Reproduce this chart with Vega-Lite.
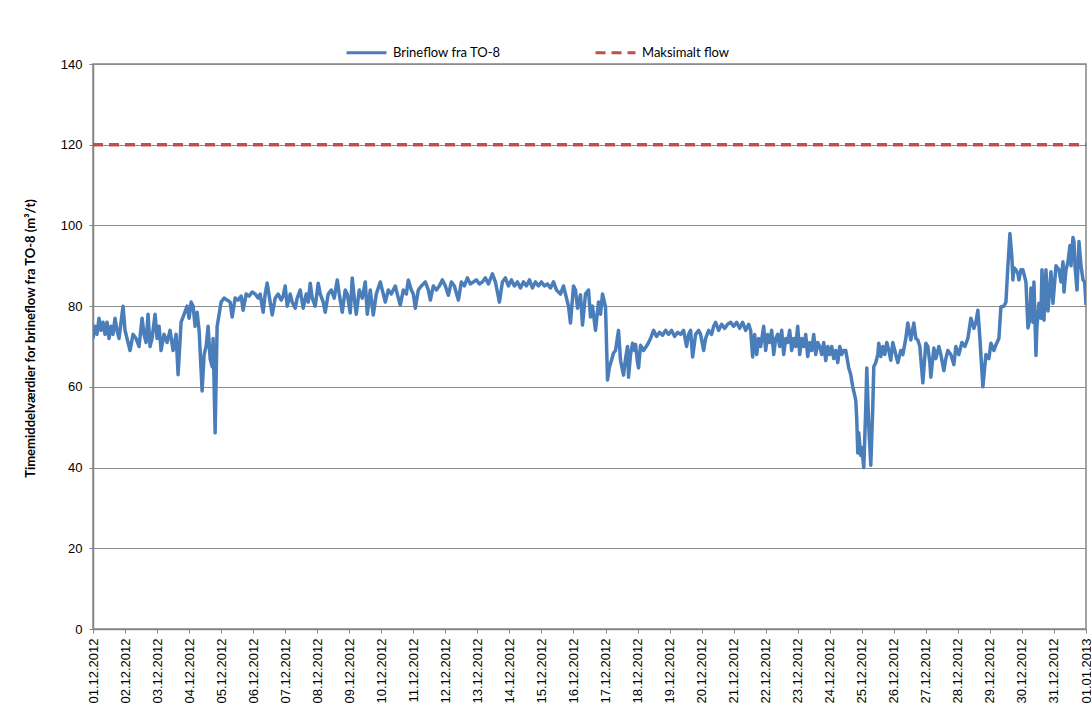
{
  "$schema": "https://vega.github.io/schema/vega-lite/v6.json",
  "width": 993,
  "height": 565,
  "autosize": {"type": "none"},
  "padding": {"left": 93, "top": 64, "right": 5, "bottom": 89},
  "background": "white",
  "config": {
    "view": {"stroke": "#868686", "strokeWidth": 1.5},
    "axis": {"labelFont": "Liberation Sans", "labelFontSize": 13, "labelColor": "#000000", "domainColor": "#868686", "domainWidth": 1.5, "tickColor": "#868686", "tickSize": 4, "tickWidth": 1}
  },
  "data": {"values": [
    {"h":0,"v":72,"s":"Brineflow fra TO-8"},{"h":1.5,"v":75,"s":"Brineflow fra TO-8"},{"h":3,"v":73,"s":"Brineflow fra TO-8"},{"h":4.5,"v":77,"s":"Brineflow fra TO-8"},{"h":6,"v":74,"s":"Brineflow fra TO-8"},{"h":7.5,"v":76,"s":"Brineflow fra TO-8"},{"h":9,"v":73,"s":"Brineflow fra TO-8"},{"h":10.5,"v":76,"s":"Brineflow fra TO-8"},{"h":12,"v":72,"s":"Brineflow fra TO-8"},{"h":13.5,"v":75,"s":"Brineflow fra TO-8"},{"h":15,"v":73,"s":"Brineflow fra TO-8"},{"h":16.5,"v":77,"s":"Brineflow fra TO-8"},{"h":18,"v":74,"s":"Brineflow fra TO-8"},{"h":19.5,"v":72,"s":"Brineflow fra TO-8"},{"h":21,"v":76,"s":"Brineflow fra TO-8"},{"h":22.5,"v":80,"s":"Brineflow fra TO-8"},{"h":24,"v":74,"s":"Brineflow fra TO-8"},{"h":25.5,"v":72,"s":"Brineflow fra TO-8"},{"h":27.75,"v":69,"s":"Brineflow fra TO-8"},{"h":30,"v":73,"s":"Brineflow fra TO-8"},{"h":32.25,"v":72,"s":"Brineflow fra TO-8"},{"h":34.5,"v":70,"s":"Brineflow fra TO-8"},{"h":36.75,"v":77,"s":"Brineflow fra TO-8"},{"h":38.25,"v":73,"s":"Brineflow fra TO-8"},{"h":39.75,"v":71,"s":"Brineflow fra TO-8"},{"h":41.25,"v":78,"s":"Brineflow fra TO-8"},{"h":42.75,"v":70,"s":"Brineflow fra TO-8"},{"h":44.25,"v":72,"s":"Brineflow fra TO-8"},{"h":46.5,"v":78,"s":"Brineflow fra TO-8"},{"h":48,"v":72,"s":"Brineflow fra TO-8"},{"h":49.5,"v":75,"s":"Brineflow fra TO-8"},{"h":51,"v":69,"s":"Brineflow fra TO-8"},{"h":53.25,"v":73,"s":"Brineflow fra TO-8"},{"h":55.5,"v":71,"s":"Brineflow fra TO-8"},{"h":57.75,"v":74,"s":"Brineflow fra TO-8"},{"h":60,"v":69,"s":"Brineflow fra TO-8"},{"h":62.25,"v":73,"s":"Brineflow fra TO-8"},{"h":63.75,"v":63,"s":"Brineflow fra TO-8"},{"h":66,"v":76,"s":"Brineflow fra TO-8"},{"h":68.25,"v":78,"s":"Brineflow fra TO-8"},{"h":70.5,"v":80,"s":"Brineflow fra TO-8"},{"h":72,"v":77,"s":"Brineflow fra TO-8"},{"h":73.5,"v":81,"s":"Brineflow fra TO-8"},{"h":75,"v":80,"s":"Brineflow fra TO-8"},{"h":76.5,"v":75,"s":"Brineflow fra TO-8"},{"h":78,"v":78.5,"s":"Brineflow fra TO-8"},{"h":79.5,"v":74,"s":"Brineflow fra TO-8"},{"h":81.75,"v":59,"s":"Brineflow fra TO-8"},{"h":83.25,"v":68,"s":"Brineflow fra TO-8"},{"h":84.75,"v":70,"s":"Brineflow fra TO-8"},{"h":86.25,"v":75,"s":"Brineflow fra TO-8"},{"h":87.75,"v":67,"s":"Brineflow fra TO-8"},{"h":89.25,"v":65,"s":"Brineflow fra TO-8"},{"h":90,"v":72,"s":"Brineflow fra TO-8"},{"h":91.5,"v":48.6,"s":"Brineflow fra TO-8"},{"h":93,"v":75,"s":"Brineflow fra TO-8"},{"h":94.5,"v":78,"s":"Brineflow fra TO-8"},{"h":96,"v":81,"s":"Brineflow fra TO-8"},{"h":98.25,"v":82,"s":"Brineflow fra TO-8"},{"h":100.5,"v":81.5,"s":"Brineflow fra TO-8"},{"h":102.75,"v":81,"s":"Brineflow fra TO-8"},{"h":104.25,"v":77.3,"s":"Brineflow fra TO-8"},{"h":106.5,"v":82,"s":"Brineflow fra TO-8"},{"h":108.75,"v":81.5,"s":"Brineflow fra TO-8"},{"h":111,"v":82.5,"s":"Brineflow fra TO-8"},{"h":112.5,"v":79,"s":"Brineflow fra TO-8"},{"h":114.75,"v":83,"s":"Brineflow fra TO-8"},{"h":117,"v":82.5,"s":"Brineflow fra TO-8"},{"h":119.25,"v":83.5,"s":"Brineflow fra TO-8"},{"h":121.5,"v":83,"s":"Brineflow fra TO-8"},{"h":123.75,"v":82,"s":"Brineflow fra TO-8"},{"h":125.25,"v":83,"s":"Brineflow fra TO-8"},{"h":127.5,"v":78.5,"s":"Brineflow fra TO-8"},{"h":129,"v":83,"s":"Brineflow fra TO-8"},{"h":130.5,"v":85.7,"s":"Brineflow fra TO-8"},{"h":132.75,"v":81,"s":"Brineflow fra TO-8"},{"h":134.25,"v":77.8,"s":"Brineflow fra TO-8"},{"h":136.5,"v":82,"s":"Brineflow fra TO-8"},{"h":138.75,"v":83,"s":"Brineflow fra TO-8"},{"h":141,"v":81.5,"s":"Brineflow fra TO-8"},{"h":142.5,"v":82.5,"s":"Brineflow fra TO-8"},{"h":144,"v":85,"s":"Brineflow fra TO-8"},{"h":145.5,"v":80,"s":"Brineflow fra TO-8"},{"h":147.75,"v":83,"s":"Brineflow fra TO-8"},{"h":149.25,"v":81,"s":"Brineflow fra TO-8"},{"h":151.5,"v":79.5,"s":"Brineflow fra TO-8"},{"h":153,"v":82,"s":"Brineflow fra TO-8"},{"h":155.25,"v":84,"s":"Brineflow fra TO-8"},{"h":157.5,"v":79.5,"s":"Brineflow fra TO-8"},{"h":159.75,"v":83,"s":"Brineflow fra TO-8"},{"h":161.25,"v":81,"s":"Brineflow fra TO-8"},{"h":162.75,"v":85.7,"s":"Brineflow fra TO-8"},{"h":164.25,"v":82,"s":"Brineflow fra TO-8"},{"h":166.5,"v":80,"s":"Brineflow fra TO-8"},{"h":168.75,"v":85.7,"s":"Brineflow fra TO-8"},{"h":170.25,"v":83,"s":"Brineflow fra TO-8"},{"h":172.5,"v":81,"s":"Brineflow fra TO-8"},{"h":174,"v":78.5,"s":"Brineflow fra TO-8"},{"h":176.25,"v":83,"s":"Brineflow fra TO-8"},{"h":178.5,"v":84,"s":"Brineflow fra TO-8"},{"h":180.75,"v":82,"s":"Brineflow fra TO-8"},{"h":183,"v":86.5,"s":"Brineflow fra TO-8"},{"h":184.5,"v":83,"s":"Brineflow fra TO-8"},{"h":186.75,"v":78.5,"s":"Brineflow fra TO-8"},{"h":189,"v":84,"s":"Brineflow fra TO-8"},{"h":190.5,"v":83,"s":"Brineflow fra TO-8"},{"h":192.75,"v":78.3,"s":"Brineflow fra TO-8"},{"h":194.25,"v":87,"s":"Brineflow fra TO-8"},{"h":195.75,"v":82,"s":"Brineflow fra TO-8"},{"h":197.25,"v":78,"s":"Brineflow fra TO-8"},{"h":199.5,"v":84,"s":"Brineflow fra TO-8"},{"h":201.75,"v":82,"s":"Brineflow fra TO-8"},{"h":204,"v":86,"s":"Brineflow fra TO-8"},{"h":205.5,"v":78,"s":"Brineflow fra TO-8"},{"h":207.75,"v":84,"s":"Brineflow fra TO-8"},{"h":210,"v":77.8,"s":"Brineflow fra TO-8"},{"h":212.25,"v":83,"s":"Brineflow fra TO-8"},{"h":215.25,"v":86,"s":"Brineflow fra TO-8"},{"h":216.75,"v":84,"s":"Brineflow fra TO-8"},{"h":219,"v":81,"s":"Brineflow fra TO-8"},{"h":221.25,"v":84,"s":"Brineflow fra TO-8"},{"h":223.5,"v":83,"s":"Brineflow fra TO-8"},{"h":226.5,"v":85,"s":"Brineflow fra TO-8"},{"h":228.75,"v":82,"s":"Brineflow fra TO-8"},{"h":230.25,"v":80.3,"s":"Brineflow fra TO-8"},{"h":232.5,"v":84,"s":"Brineflow fra TO-8"},{"h":234.75,"v":83,"s":"Brineflow fra TO-8"},{"h":236.25,"v":86.5,"s":"Brineflow fra TO-8"},{"h":238.5,"v":84,"s":"Brineflow fra TO-8"},{"h":240,"v":83,"s":"Brineflow fra TO-8"},{"h":241.5,"v":79.5,"s":"Brineflow fra TO-8"},{"h":243.75,"v":84,"s":"Brineflow fra TO-8"},{"h":246,"v":85,"s":"Brineflow fra TO-8"},{"h":249,"v":86,"s":"Brineflow fra TO-8"},{"h":251.25,"v":84,"s":"Brineflow fra TO-8"},{"h":252.75,"v":81.5,"s":"Brineflow fra TO-8"},{"h":255,"v":85,"s":"Brineflow fra TO-8"},{"h":257.25,"v":84,"s":"Brineflow fra TO-8"},{"h":259.5,"v":85,"s":"Brineflow fra TO-8"},{"h":261.75,"v":86.5,"s":"Brineflow fra TO-8"},{"h":264,"v":85,"s":"Brineflow fra TO-8"},{"h":266.25,"v":82.7,"s":"Brineflow fra TO-8"},{"h":268.5,"v":86,"s":"Brineflow fra TO-8"},{"h":270.75,"v":85,"s":"Brineflow fra TO-8"},{"h":273.75,"v":81.5,"s":"Brineflow fra TO-8"},{"h":276,"v":86,"s":"Brineflow fra TO-8"},{"h":278.25,"v":85,"s":"Brineflow fra TO-8"},{"h":280.5,"v":87,"s":"Brineflow fra TO-8"},{"h":282.75,"v":85.5,"s":"Brineflow fra TO-8"},{"h":285,"v":86,"s":"Brineflow fra TO-8"},{"h":287.25,"v":86.5,"s":"Brineflow fra TO-8"},{"h":289.5,"v":85.5,"s":"Brineflow fra TO-8"},{"h":291.75,"v":86,"s":"Brineflow fra TO-8"},{"h":294,"v":87,"s":"Brineflow fra TO-8"},{"h":296.25,"v":85.5,"s":"Brineflow fra TO-8"},{"h":299.25,"v":88,"s":"Brineflow fra TO-8"},{"h":301.5,"v":86,"s":"Brineflow fra TO-8"},{"h":304.5,"v":81,"s":"Brineflow fra TO-8"},{"h":306.75,"v":86,"s":"Brineflow fra TO-8"},{"h":309,"v":87,"s":"Brineflow fra TO-8"},{"h":311.25,"v":85,"s":"Brineflow fra TO-8"},{"h":313.5,"v":86.5,"s":"Brineflow fra TO-8"},{"h":315.75,"v":85,"s":"Brineflow fra TO-8"},{"h":318,"v":86,"s":"Brineflow fra TO-8"},{"h":320.25,"v":84.5,"s":"Brineflow fra TO-8"},{"h":322.5,"v":86,"s":"Brineflow fra TO-8"},{"h":324.75,"v":85,"s":"Brineflow fra TO-8"},{"h":327,"v":86.5,"s":"Brineflow fra TO-8"},{"h":329.25,"v":84.5,"s":"Brineflow fra TO-8"},{"h":331.5,"v":86,"s":"Brineflow fra TO-8"},{"h":333.75,"v":85,"s":"Brineflow fra TO-8"},{"h":336,"v":86,"s":"Brineflow fra TO-8"},{"h":338.25,"v":85,"s":"Brineflow fra TO-8"},{"h":340.5,"v":85.5,"s":"Brineflow fra TO-8"},{"h":342.75,"v":84.5,"s":"Brineflow fra TO-8"},{"h":345,"v":86,"s":"Brineflow fra TO-8"},{"h":347.25,"v":84,"s":"Brineflow fra TO-8"},{"h":350.25,"v":83,"s":"Brineflow fra TO-8"},{"h":352.5,"v":85,"s":"Brineflow fra TO-8"},{"h":354.75,"v":82,"s":"Brineflow fra TO-8"},{"h":356.25,"v":80,"s":"Brineflow fra TO-8"},{"h":357.75,"v":75.8,"s":"Brineflow fra TO-8"},{"h":360,"v":85,"s":"Brineflow fra TO-8"},{"h":361.5,"v":84,"s":"Brineflow fra TO-8"},{"h":363,"v":79.5,"s":"Brineflow fra TO-8"},{"h":365.25,"v":82.8,"s":"Brineflow fra TO-8"},{"h":366.75,"v":75.3,"s":"Brineflow fra TO-8"},{"h":369,"v":83,"s":"Brineflow fra TO-8"},{"h":371.25,"v":84,"s":"Brineflow fra TO-8"},{"h":372.75,"v":77.3,"s":"Brineflow fra TO-8"},{"h":374.25,"v":80,"s":"Brineflow fra TO-8"},{"h":376.5,"v":74,"s":"Brineflow fra TO-8"},{"h":378.75,"v":81,"s":"Brineflow fra TO-8"},{"h":380.25,"v":78,"s":"Brineflow fra TO-8"},{"h":381.75,"v":83,"s":"Brineflow fra TO-8"},{"h":384,"v":79.8,"s":"Brineflow fra TO-8"},{"h":385.5,"v":61.7,"s":"Brineflow fra TO-8"},{"h":387,"v":65,"s":"Brineflow fra TO-8"},{"h":388.5,"v":66.6,"s":"Brineflow fra TO-8"},{"h":390,"v":68.4,"s":"Brineflow fra TO-8"},{"h":391.5,"v":69,"s":"Brineflow fra TO-8"},{"h":393.75,"v":74,"s":"Brineflow fra TO-8"},{"h":395.25,"v":66.6,"s":"Brineflow fra TO-8"},{"h":397.5,"v":62.9,"s":"Brineflow fra TO-8"},{"h":399,"v":67,"s":"Brineflow fra TO-8"},{"h":400.5,"v":70,"s":"Brineflow fra TO-8"},{"h":401.25,"v":62.4,"s":"Brineflow fra TO-8"},{"h":402.75,"v":68,"s":"Brineflow fra TO-8"},{"h":404.25,"v":70.8,"s":"Brineflow fra TO-8"},{"h":405.75,"v":69,"s":"Brineflow fra TO-8"},{"h":406.5,"v":70.5,"s":"Brineflow fra TO-8"},{"h":408,"v":66,"s":"Brineflow fra TO-8"},{"h":408.75,"v":64.7,"s":"Brineflow fra TO-8"},{"h":410.25,"v":70.3,"s":"Brineflow fra TO-8"},{"h":412.5,"v":69,"s":"Brineflow fra TO-8"},{"h":415.5,"v":70.5,"s":"Brineflow fra TO-8"},{"h":417.75,"v":72,"s":"Brineflow fra TO-8"},{"h":420,"v":74,"s":"Brineflow fra TO-8"},{"h":422.25,"v":72.5,"s":"Brineflow fra TO-8"},{"h":424.5,"v":73.5,"s":"Brineflow fra TO-8"},{"h":426.75,"v":72.8,"s":"Brineflow fra TO-8"},{"h":429,"v":74,"s":"Brineflow fra TO-8"},{"h":431.25,"v":73,"s":"Brineflow fra TO-8"},{"h":433.5,"v":74,"s":"Brineflow fra TO-8"},{"h":435.75,"v":72.5,"s":"Brineflow fra TO-8"},{"h":438,"v":73.5,"s":"Brineflow fra TO-8"},{"h":440.25,"v":73,"s":"Brineflow fra TO-8"},{"h":442.5,"v":74,"s":"Brineflow fra TO-8"},{"h":444.75,"v":70,"s":"Brineflow fra TO-8"},{"h":446.25,"v":73,"s":"Brineflow fra TO-8"},{"h":447.75,"v":74,"s":"Brineflow fra TO-8"},{"h":449.25,"v":67.4,"s":"Brineflow fra TO-8"},{"h":451.5,"v":73,"s":"Brineflow fra TO-8"},{"h":453.75,"v":74,"s":"Brineflow fra TO-8"},{"h":455.25,"v":73,"s":"Brineflow fra TO-8"},{"h":457.5,"v":69,"s":"Brineflow fra TO-8"},{"h":459,"v":72,"s":"Brineflow fra TO-8"},{"h":461.25,"v":74,"s":"Brineflow fra TO-8"},{"h":463.5,"v":73,"s":"Brineflow fra TO-8"},{"h":465,"v":75,"s":"Brineflow fra TO-8"},{"h":466.5,"v":76,"s":"Brineflow fra TO-8"},{"h":468.75,"v":74,"s":"Brineflow fra TO-8"},{"h":471,"v":75.5,"s":"Brineflow fra TO-8"},{"h":473.25,"v":74.5,"s":"Brineflow fra TO-8"},{"h":475.5,"v":75.5,"s":"Brineflow fra TO-8"},{"h":477.75,"v":76,"s":"Brineflow fra TO-8"},{"h":480,"v":75,"s":"Brineflow fra TO-8"},{"h":482.25,"v":76,"s":"Brineflow fra TO-8"},{"h":484.5,"v":74.5,"s":"Brineflow fra TO-8"},{"h":486.75,"v":76,"s":"Brineflow fra TO-8"},{"h":489,"v":74,"s":"Brineflow fra TO-8"},{"h":491.25,"v":75.5,"s":"Brineflow fra TO-8"},{"h":492.75,"v":74,"s":"Brineflow fra TO-8"},{"h":494.25,"v":67.4,"s":"Brineflow fra TO-8"},{"h":495.75,"v":73,"s":"Brineflow fra TO-8"},{"h":497.25,"v":68,"s":"Brineflow fra TO-8"},{"h":498.75,"v":72,"s":"Brineflow fra TO-8"},{"h":500.25,"v":70,"s":"Brineflow fra TO-8"},{"h":502.5,"v":75,"s":"Brineflow fra TO-8"},{"h":504,"v":69,"s":"Brineflow fra TO-8"},{"h":505.5,"v":73,"s":"Brineflow fra TO-8"},{"h":507,"v":71,"s":"Brineflow fra TO-8"},{"h":508.5,"v":74,"s":"Brineflow fra TO-8"},{"h":510,"v":68,"s":"Brineflow fra TO-8"},{"h":511.5,"v":72,"s":"Brineflow fra TO-8"},{"h":513,"v":73,"s":"Brineflow fra TO-8"},{"h":514.5,"v":70,"s":"Brineflow fra TO-8"},{"h":516,"v":74,"s":"Brineflow fra TO-8"},{"h":517.5,"v":68,"s":"Brineflow fra TO-8"},{"h":519,"v":72,"s":"Brineflow fra TO-8"},{"h":520.5,"v":71,"s":"Brineflow fra TO-8"},{"h":522,"v":74,"s":"Brineflow fra TO-8"},{"h":523.5,"v":69,"s":"Brineflow fra TO-8"},{"h":525,"v":72,"s":"Brineflow fra TO-8"},{"h":526.5,"v":70,"s":"Brineflow fra TO-8"},{"h":528,"v":75,"s":"Brineflow fra TO-8"},{"h":529.5,"v":68,"s":"Brineflow fra TO-8"},{"h":531,"v":72,"s":"Brineflow fra TO-8"},{"h":532.5,"v":70,"s":"Brineflow fra TO-8"},{"h":534,"v":73,"s":"Brineflow fra TO-8"},{"h":535.5,"v":67.5,"s":"Brineflow fra TO-8"},{"h":537,"v":71,"s":"Brineflow fra TO-8"},{"h":538.5,"v":69,"s":"Brineflow fra TO-8"},{"h":540,"v":73,"s":"Brineflow fra TO-8"},{"h":541.5,"v":68,"s":"Brineflow fra TO-8"},{"h":543,"v":71,"s":"Brineflow fra TO-8"},{"h":544.5,"v":70,"s":"Brineflow fra TO-8"},{"h":546,"v":68,"s":"Brineflow fra TO-8"},{"h":547.5,"v":71,"s":"Brineflow fra TO-8"},{"h":549,"v":66.5,"s":"Brineflow fra TO-8"},{"h":550.5,"v":70,"s":"Brineflow fra TO-8"},{"h":552,"v":68,"s":"Brineflow fra TO-8"},{"h":553.5,"v":70,"s":"Brineflow fra TO-8"},{"h":555,"v":67,"s":"Brineflow fra TO-8"},{"h":556.5,"v":69,"s":"Brineflow fra TO-8"},{"h":558,"v":66,"s":"Brineflow fra TO-8"},{"h":559.5,"v":70,"s":"Brineflow fra TO-8"},{"h":561,"v":68,"s":"Brineflow fra TO-8"},{"h":562.5,"v":69,"s":"Brineflow fra TO-8"},{"h":564,"v":69,"s":"Brineflow fra TO-8"},{"h":566.25,"v":64.7,"s":"Brineflow fra TO-8"},{"h":567.75,"v":63,"s":"Brineflow fra TO-8"},{"h":569.25,"v":60,"s":"Brineflow fra TO-8"},{"h":571.5,"v":56.7,"s":"Brineflow fra TO-8"},{"h":572.25,"v":52,"s":"Brineflow fra TO-8"},{"h":573,"v":43.6,"s":"Brineflow fra TO-8"},{"h":573.75,"v":48.6,"s":"Brineflow fra TO-8"},{"h":575.25,"v":43,"s":"Brineflow fra TO-8"},{"h":576,"v":45,"s":"Brineflow fra TO-8"},{"h":577.5,"v":40,"s":"Brineflow fra TO-8"},{"h":579,"v":55,"s":"Brineflow fra TO-8"},{"h":579.75,"v":64.7,"s":"Brineflow fra TO-8"},{"h":581.25,"v":50,"s":"Brineflow fra TO-8"},{"h":582.75,"v":40.6,"s":"Brineflow fra TO-8"},{"h":584.25,"v":55,"s":"Brineflow fra TO-8"},{"h":585,"v":65,"s":"Brineflow fra TO-8"},{"h":586.5,"v":66,"s":"Brineflow fra TO-8"},{"h":588,"v":68,"s":"Brineflow fra TO-8"},{"h":588.75,"v":70.8,"s":"Brineflow fra TO-8"},{"h":590.25,"v":67.5,"s":"Brineflow fra TO-8"},{"h":591.75,"v":70,"s":"Brineflow fra TO-8"},{"h":593.25,"v":68,"s":"Brineflow fra TO-8"},{"h":594.75,"v":71,"s":"Brineflow fra TO-8"},{"h":596.25,"v":69,"s":"Brineflow fra TO-8"},{"h":597.75,"v":66.6,"s":"Brineflow fra TO-8"},{"h":599.25,"v":71,"s":"Brineflow fra TO-8"},{"h":600.75,"v":69,"s":"Brineflow fra TO-8"},{"h":603,"v":66,"s":"Brineflow fra TO-8"},{"h":605.25,"v":69,"s":"Brineflow fra TO-8"},{"h":606.75,"v":68,"s":"Brineflow fra TO-8"},{"h":609,"v":72,"s":"Brineflow fra TO-8"},{"h":610.5,"v":75.8,"s":"Brineflow fra TO-8"},{"h":612.75,"v":71.6,"s":"Brineflow fra TO-8"},{"h":615,"v":75.8,"s":"Brineflow fra TO-8"},{"h":616.5,"v":72,"s":"Brineflow fra TO-8"},{"h":618,"v":71.6,"s":"Brineflow fra TO-8"},{"h":619.5,"v":70,"s":"Brineflow fra TO-8"},{"h":621.75,"v":61,"s":"Brineflow fra TO-8"},{"h":624,"v":70.8,"s":"Brineflow fra TO-8"},{"h":625.5,"v":70,"s":"Brineflow fra TO-8"},{"h":627,"v":66,"s":"Brineflow fra TO-8"},{"h":627.75,"v":62.4,"s":"Brineflow fra TO-8"},{"h":630,"v":69.6,"s":"Brineflow fra TO-8"},{"h":631.5,"v":67,"s":"Brineflow fra TO-8"},{"h":633.75,"v":70,"s":"Brineflow fra TO-8"},{"h":635.25,"v":68,"s":"Brineflow fra TO-8"},{"h":637.5,"v":64,"s":"Brineflow fra TO-8"},{"h":639,"v":67,"s":"Brineflow fra TO-8"},{"h":640.5,"v":69,"s":"Brineflow fra TO-8"},{"h":642.75,"v":68,"s":"Brineflow fra TO-8"},{"h":645,"v":65.5,"s":"Brineflow fra TO-8"},{"h":646.5,"v":70,"s":"Brineflow fra TO-8"},{"h":648.75,"v":68,"s":"Brineflow fra TO-8"},{"h":651,"v":71,"s":"Brineflow fra TO-8"},{"h":653.25,"v":70,"s":"Brineflow fra TO-8"},{"h":655.5,"v":72,"s":"Brineflow fra TO-8"},{"h":657.75,"v":77,"s":"Brineflow fra TO-8"},{"h":660,"v":74.5,"s":"Brineflow fra TO-8"},{"h":661.5,"v":76,"s":"Brineflow fra TO-8"},{"h":663,"v":79,"s":"Brineflow fra TO-8"},{"h":664.5,"v":72,"s":"Brineflow fra TO-8"},{"h":666.75,"v":60,"s":"Brineflow fra TO-8"},{"h":669,"v":68,"s":"Brineflow fra TO-8"},{"h":671.25,"v":67,"s":"Brineflow fra TO-8"},{"h":672.75,"v":70.8,"s":"Brineflow fra TO-8"},{"h":675,"v":69,"s":"Brineflow fra TO-8"},{"h":676.5,"v":70.4,"s":"Brineflow fra TO-8"},{"h":678.75,"v":72,"s":"Brineflow fra TO-8"},{"h":680.25,"v":79.8,"s":"Brineflow fra TO-8"},{"h":682.5,"v":80,"s":"Brineflow fra TO-8"},{"h":684,"v":81,"s":"Brineflow fra TO-8"},{"h":685.5,"v":90,"s":"Brineflow fra TO-8"},{"h":687,"v":98,"s":"Brineflow fra TO-8"},{"h":688.5,"v":92,"s":"Brineflow fra TO-8"},{"h":689.25,"v":86.5,"s":"Brineflow fra TO-8"},{"h":690,"v":89.5,"s":"Brineflow fra TO-8"},{"h":691.5,"v":89,"s":"Brineflow fra TO-8"},{"h":693,"v":88,"s":"Brineflow fra TO-8"},{"h":693.75,"v":86.5,"s":"Brineflow fra TO-8"},{"h":695.25,"v":89,"s":"Brineflow fra TO-8"},{"h":696.75,"v":89,"s":"Brineflow fra TO-8"},{"h":698.25,"v":87,"s":"Brineflow fra TO-8"},{"h":699,"v":86,"s":"Brineflow fra TO-8"},{"h":700.5,"v":74.6,"s":"Brineflow fra TO-8"},{"h":702,"v":77,"s":"Brineflow fra TO-8"},{"h":702.75,"v":84.5,"s":"Brineflow fra TO-8"},{"h":704.25,"v":76,"s":"Brineflow fra TO-8"},{"h":705,"v":86,"s":"Brineflow fra TO-8"},{"h":706.5,"v":67.8,"s":"Brineflow fra TO-8"},{"h":707.25,"v":75,"s":"Brineflow fra TO-8"},{"h":708.75,"v":80.7,"s":"Brineflow fra TO-8"},{"h":710.25,"v":77,"s":"Brineflow fra TO-8"},{"h":711,"v":89,"s":"Brineflow fra TO-8"},{"h":712.5,"v":76.5,"s":"Brineflow fra TO-8"},{"h":714,"v":89,"s":"Brineflow fra TO-8"},{"h":715.5,"v":78.8,"s":"Brineflow fra TO-8"},{"h":716.25,"v":82,"s":"Brineflow fra TO-8"},{"h":717.75,"v":88.5,"s":"Brineflow fra TO-8"},{"h":719.25,"v":80.7,"s":"Brineflow fra TO-8"},{"h":721.5,"v":90,"s":"Brineflow fra TO-8"},{"h":723.75,"v":89,"s":"Brineflow fra TO-8"},{"h":725.25,"v":86,"s":"Brineflow fra TO-8"},{"h":726.75,"v":91,"s":"Brineflow fra TO-8"},{"h":727.5,"v":83.5,"s":"Brineflow fra TO-8"},{"h":729,"v":89,"s":"Brineflow fra TO-8"},{"h":730.5,"v":91,"s":"Brineflow fra TO-8"},{"h":732,"v":95,"s":"Brineflow fra TO-8"},{"h":732.75,"v":90,"s":"Brineflow fra TO-8"},{"h":734.25,"v":97,"s":"Brineflow fra TO-8"},{"h":735,"v":96,"s":"Brineflow fra TO-8"},{"h":735.75,"v":90,"s":"Brineflow fra TO-8"},{"h":737.25,"v":84,"s":"Brineflow fra TO-8"},{"h":738.75,"v":96,"s":"Brineflow fra TO-8"},{"h":740.25,"v":90,"s":"Brineflow fra TO-8"},{"h":741.75,"v":86.5,"s":"Brineflow fra TO-8"},{"h":743,"v":86,"s":"Brineflow fra TO-8"},{"h":744,"v":80.3,"s":"Brineflow fra TO-8"},
    {"h":0,"v":120,"s":"Maksimalt flow"},{"h":744,"v":120,"s":"Maksimalt flow"}
  ]},
  "mark": {"type": "line", "strokeWidth": 3.5, "strokeJoin": "round", "strokeCap": "butt", "clip": true},
  "encoding": {
    "x": {
      "field": "h", "type": "quantitative",
      "scale": {"domain": [0, 744], "nice": false, "zero": false},
      "axis": {
        "title": null, "grid": false,
        "values": [0,24,48,72,96,120,144,168,192,216,240,264,288,312,336,360,384,408,432,456,480,504,528,552,576,600,624,648,672,696,720,744],
        "labelExpr": "timeFormat(datetime(2012, 11, 1 + datum.value / 24), '%d.%m.%Y')",
        "labelAngle": -90, "labelAlign": "right", "labelBaseline": "middle", "labelPadding": 5,
        "labelOverlap": false, "labelFlush": false, "labelBound": false
      }
    },
    "y": {
      "field": "v", "type": "quantitative",
      "scale": {"domain": [0, 140], "nice": false},
      "axis": {
        "values": [0,20,40,60,80,100,120,140],
        "grid": true, "gridColor": "#8c8c8c", "gridWidth": 1,
        "labelPadding": 7,
        "title": "Timemiddelværdier for brineflow fra TO-8 (m³/t)",
        "titleFont": "Lato", "titleFontSize": 13, "titleFontWeight": "bold", "titleColor": "#000000",
        "titleAngle": -90, "titleX": -63, "titleY": 274, "titleAlign": "center", "titleBaseline": "middle"
      }
    },
    "color": {
      "field": "s", "type": "nominal",
      "scale": {"domain": ["Brineflow fra TO-8", "Maksimalt flow"], "range": ["#4a7ebb", "#c0504d"]},
      "legend": {
        "title": null, "orient": "none", "direction": "horizontal", "legendX": 252, "legendY": -33,
        "symbolType": "stroke", "symbolSize": 1600, "symbolStrokeWidth": 3,
        "labelFont": "Lato", "labelFontSize": 13, "labelColor": "#000000", "labelOffset": 5,
        "columnPadding": 88
      }
    },
    "strokeDash": {
      "field": "s", "type": "nominal",
      "scale": {"domain": ["Brineflow fra TO-8", "Maksimalt flow"], "range": [[1, 0], [10, 6]]},
      "legend": null
    }
  }
}
